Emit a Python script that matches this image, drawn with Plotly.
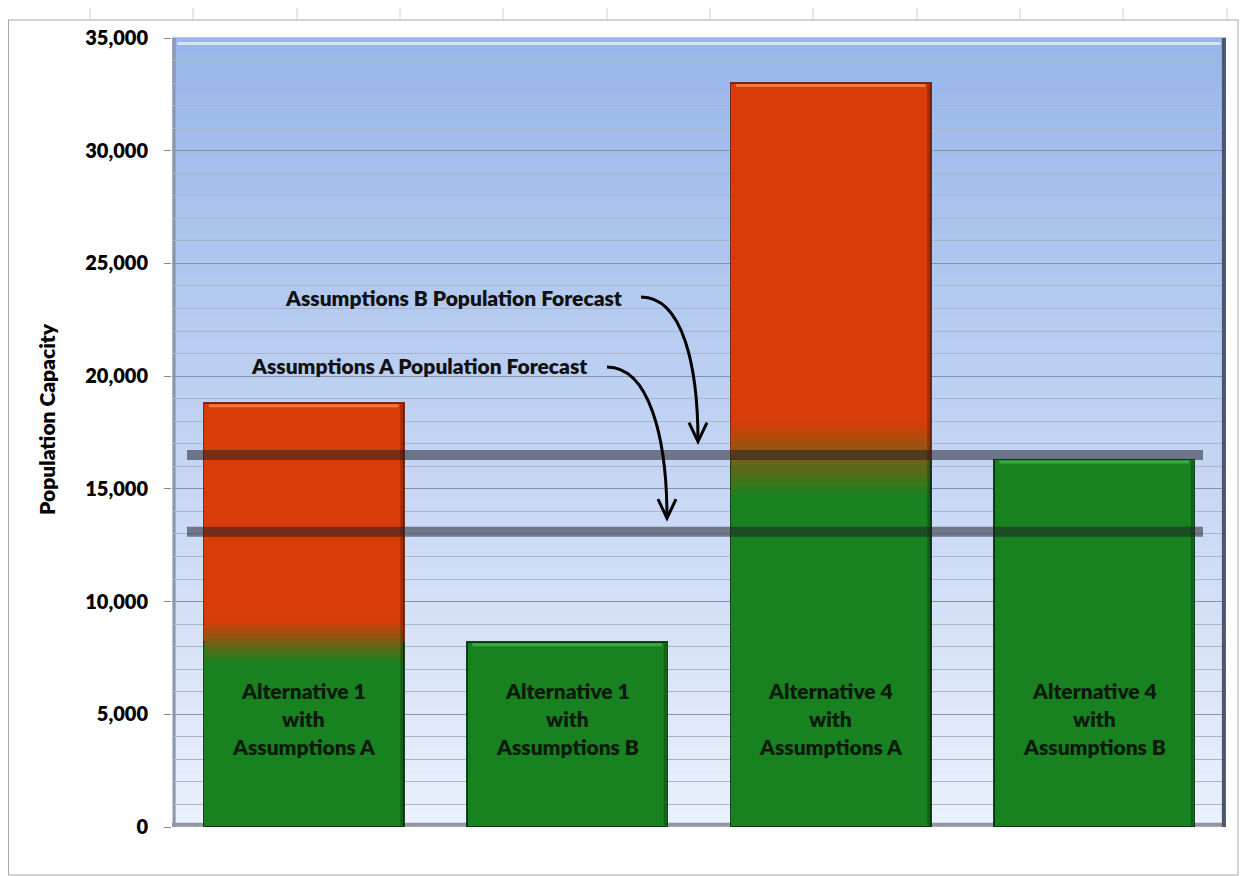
import plotly.graph_objects as go

# ---------------- data ----------------
categories = ["Alt 1 A", "Alt 1 B", "Alt 4 A", "Alt 4 B"]
bar_labels = [
    ["Alternative 1", "with", "Assumptions A"],
    ["Alternative 1", "with", "Assumptions B"],
    ["Alternative 4", "with", "Assumptions A"],
    ["Alternative 4", "with", "Assumptions B"],
]
base_capacity = [8200, 8200, 16300, 16300]      # green part
added_capacity = [10600, 0, 16700, 0]           # red part on top
forecast_names = ["Assumptions A Population Forecast", "Assumptions B Population Forecast"]
forecast_values = [13100, 16500]
y_tick_values = [0, 5000, 10000, 15000, 20000, 25000, 30000, 35000]
y_tick_text = ["0", "5,000", "10,000", "15,000", "20,000", "25,000", "30,000", "35,000"]
y_title = "Population Capacity"

# ---------------- geometry / style ----------------
# page body adds an 8px offset, so the figure is sized to end at the window edge
OFF = 8
W, H = 1247 - OFF, 876 - OFF
PX0, PX1, PY0, PY1 = 172, 1226, 38, 827          # plot area in screen pixels
ML, MT = PX0 - OFF, PY0 - OFF
MR, MB = 1247 - PX1, 876 - PY1
PW = PX1 - PX0
PH = PY1 - PY0
YMAX = 35000
FONT = "Lato"
WEIGHT = 800
GREEN = (24, 130, 32)
RED = (216, 60, 8)
BARGAP = 0.24
HALF = (1 - BARGAP) / 2


def px_x(px):
    return (px - PX0) / PW


def px_paper_y(py):
    return (PY1 - py) / PH


def px_y(py):
    return (PY1 - py) / PH * YMAX


def rgb(c):
    return "rgb(%d,%d,%d)" % c


def mix(a, b, t):
    return tuple(round(a[i] + (b[i] - a[i]) * t) for i in range(3))


fig = go.Figure()
fig.add_trace(go.Bar(
    x=categories, y=base_capacity, marker=dict(color=rgb(GREEN),
    line=dict(color="rgba(8,45,10,0.9)", width=1.5)), hoverinfo="skip"))
fig.add_trace(go.Bar(
    x=categories, y=added_capacity, marker=dict(color=rgb(RED),
    line=dict(color="rgba(110,30,5,0.9)", width=[1.5 if v > 0 else 0 for v in added_capacity])),
    hoverinfo="skip"))

shapes = []
# plot background gradient (below grid)
TOP_C, BOT_C = (152, 182, 234), (234, 240, 252)
NB = 60
for k in range(NB):
    t = k / (NB - 1)
    shapes.append(dict(type="rect", xref="paper", yref="paper", x0=0, x1=1,
                       y0=1 - (k + 1) / NB, y1=1 - k / NB + 0.001,
                       fillcolor=rgb(mix(TOP_C, BOT_C, t)), line_width=0, layer="below"))

# blend zone between green and red parts
for i, (b, a) in enumerate(zip(base_capacity, added_capacity)):
    if a <= 0:
        continue
    total = b + a
    half_zone = 0.05 * total
    NS = 14
    for k in range(NS):
        t0 = k / NS
        t1 = (k + 1) / NS
        shapes.append(dict(type="rect", xref="x", yref="y",
                           x0=i - HALF + 0.004, x1=i + HALF - 0.004,
                           y0=b - half_zone + 2 * half_zone * t0,
                           y1=b - half_zone + 2 * half_zone * t1 + 10,
                           fillcolor=rgb(mix(GREEN, RED, (t0 + t1) / 2)),
                           line_width=0, layer="above"))

# light bevel along each bar top and darker shade along right side
for i, (b, a) in enumerate(zip(base_capacity, added_capacity)):
    top = b + a
    col = "rgba(255,140,90,0.75)" if a > 0 else "rgba(90,190,90,0.6)"
    shapes.append(dict(type="line", xref="x", yref="y", x0=i - HALF + 0.02, x1=i + HALF - 0.02,
                       y0=top - 110, y1=top - 110, line=dict(color=col, width=3), layer="above"))
    shapes.append(dict(type="line", xref="x", yref="y", x0=i + HALF - 0.008, x1=i + HALF - 0.008,
                       y0=60, y1=top - 60, line=dict(color="rgba(0,0,0,0.25)", width=3),
                       layer="above"))

# plot-area bevel edges
shapes.append(dict(type="line", xref="paper", yref="paper", x0=0.998, x1=0.998, y0=0, y1=1,
                   line=dict(color="#4d566a", width=4), layer="above"))
shapes.append(dict(type="line", xref="paper", yref="paper", x0=0.002, x1=0.002, y0=0, y1=1,
                   line=dict(color="#8e97a8", width=3), layer="below"))
shapes.append(dict(type="line", xref="paper", yref="paper", x0=0, x1=1, y0=0.003, y1=0.003,
                   line=dict(color="#8f96a4", width=4), layer="below"))
shapes.append(dict(type="line", xref="paper", yref="paper", x0=0.005, x1=0.995, y0=0.993, y1=0.993,
                   line=dict(color="#d6e4fa", width=3), layer="below"))

# forecast lines
for v in forecast_values:
    shapes.append(dict(type="line", xref="paper", yref="y", x0=px_x(187), x1=px_x(1203),
                       y0=v, y1=v, line=dict(color="rgba(30,30,42,0.53)", width=10),
                       layer="above"))

# curved arrows from labels to forecast lines
arrow_specs = [
    # (forecast index, start px, tip x px)
    (0, (607, 367), 667),
    (1, (641, 297), 698),
]
for idx, (sx, sy), tx in arrow_specs:
    tip_y = forecast_values[idx] + 600
    x0, y0 = px_x(sx), px_y(sy)
    xt = px_x(tx)
    c1x, c1y = px_x(sx + 42), px_y(sy)
    c2x = xt
    c2y = px_y(sy + 70)
    path = "M %f,%f C %f,%f %f,%f %f,%f" % (x0, y0, c1x, c1y, c2x, c2y, xt, tip_y)
    shapes.append(dict(type="path", xref="paper", yref="y", path=path,
                       line=dict(color="black", width=3), layer="above"))
    dx = 9 / PW
    dy = 19 / PH * YMAX
    head = "M %f,%f L %f,%f L %f,%f" % (xt - dx, tip_y + dy, xt, tip_y, xt + dx, tip_y + dy)
    shapes.append(dict(type="path", xref="paper", yref="y", path=head,
                       line=dict(color="black", width=3), layer="above"))

# chart border and spreadsheet cell lines
shapes.append(dict(type="rect", xref="paper", yref="paper",
                   x0=px_x(OFF + 0.5), x1=px_x(1238), y0=px_paper_y(875), y1=px_paper_y(20),
                   line=dict(color="#a6a6a6", width=1), layer="below"))
for cx in [90, 193, 297, 400, 503, 607, 710, 813, 917, 1020, 1123, 1227]:
    shapes.append(dict(type="line", xref="paper", yref="paper", x0=px_x(cx), x1=px_x(cx),
                       y0=px_paper_y(19), y1=px_paper_y(OFF), line=dict(color="#d0d0d0", width=1)))

annotations = []
# forecast labels
label_pos = [(590, 365), (625, 297)]
for name, (lx, ly) in zip(forecast_names, label_pos):
    annotations.append(dict(text=name, xref="paper", yref="y",
                            x=px_x(lx), y=px_y(ly), xanchor="right", yanchor="middle",
                            showarrow=False,
                            font=dict(family=FONT, size=21, color="#111111", weight=WEIGHT)))
# bar labels
for i, lines in enumerate(bar_labels):
    for j, line in enumerate(lines):
        annotations.append(dict(text=line, xref="x", yref="y",
                                x=i, y=px_y(718), yshift=28 - 28 * j, xanchor="center",
                                yanchor="middle", showarrow=False,
                                font=dict(family=FONT, size=21, color="#0b1a0b", weight=WEIGHT)))
# y title
annotations.append(dict(text=y_title, xref="paper", yref="paper",
                        x=px_x(46), y=px_paper_y(419), textangle=-90, showarrow=False,
                        xanchor="center", yanchor="middle",
                        font=dict(family=FONT, size=21, color="black", weight=WEIGHT)))

fig.update_layout(
    width=W, height=H,
    margin=dict(l=ML, r=MR, t=MT, b=MB, pad=0),
    paper_bgcolor="white", plot_bgcolor="rgba(0,0,0,0)",
    barmode="stack", bargap=BARGAP, showlegend=False,
    shapes=shapes, annotations=annotations,
    font=dict(family=FONT),
    xaxis=dict(type="category", range=[-0.5, 3.5], showticklabels=False, showgrid=False,
               zeroline=False, showline=False, fixedrange=True),
    yaxis=dict(range=[0, YMAX], tickvals=y_tick_values, ticktext=y_tick_text,
               showgrid=True, gridcolor="#8893a6", gridwidth=1,
               minor=dict(dtick=1000, showgrid=True, gridcolor="#a9b5c9", gridwidth=1),
               ticks="outside", ticklen=7, tickcolor="#888888",
               ticklabelstandoff=12, zeroline=False, showline=False,
               tickfont=dict(family=FONT, size=20, color="black", weight=WEIGHT),
               fixedrange=True),
)

fig.write_html("out.html")
